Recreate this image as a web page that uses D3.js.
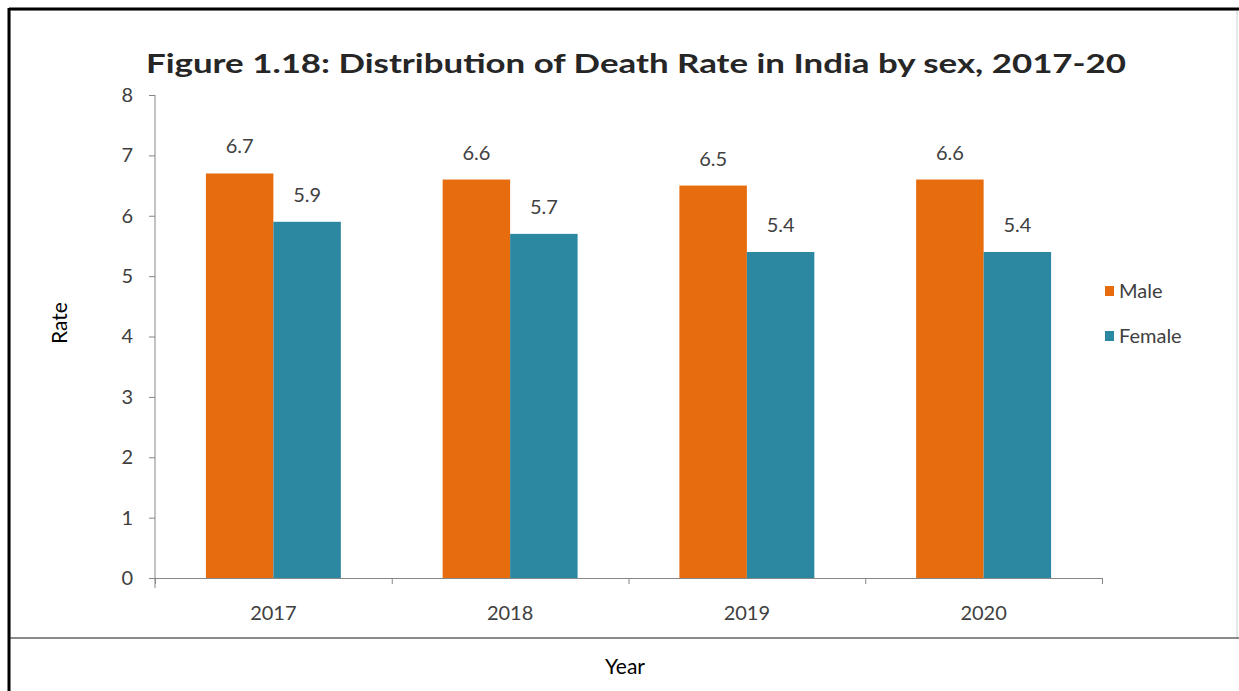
<!DOCTYPE html>
<html>
<head>
<meta charset="utf-8">
<script src="https://cdn.jsdelivr.net/npm/d3@7"></script>
<style>
  html, body { margin: 0; padding: 0; background: #fff; }
  svg { display: block; }
</style>
</head>
<body>
<svg id="chart" width="1239" height="691"></svg>
<script>
const years = ["2017", "2018", "2019", "2020"];
const seriesNames = ["Male", "Female"];
const maleValues = [6.7, 6.6, 6.5, 6.6];
const femaleValues = [5.9, 5.7, 5.4, 5.4];
const yTicks = [0, 1, 2, 3, 4, 5, 6, 7, 8];
const colors = { Male: "#E66C0E", Female: "#2C87A0" };

const data = years.map((y, i) => ({ year: y, Male: maleValues[i], Female: femaleValues[i] }));

const svg = d3.select("#chart");
const W = 1239, H = 691;
const FONT = "Lato, 'Open Sans', sans-serif";

svg.append("rect").attr("x", 0).attr("y", 0).attr("width", W).attr("height", H).attr("fill", "#fff");
svg.append("rect").attr("x", 10).attr("y", 10).attr("width", 1227).attr("height", 628)
  .attr("fill", "#fff").attr("stroke", "#d0d0d0").attr("stroke-width", 1);
svg.append("line").attr("x1", 10).attr("x2", W).attr("y1", 638).attr("y2", 638)
  .attr("stroke", "#8a8a8a").attr("stroke-width", 2);
svg.append("line").attr("x1", 9).attr("x2", W).attr("y1", 9).attr("y2", 9)
  .attr("stroke", "#000").attr("stroke-width", 3);
svg.append("line").attr("x1", 9).attr("x2", 9).attr("y1", 8).attr("y2", H)
  .attr("stroke", "#000").attr("stroke-width", 3);

const pLeft = 155, pRight = 1102, pTop = 95, pBottom = 578;

const x0 = d3.scaleBand().domain(years).range([pLeft, pRight]).paddingInner(0.43).paddingOuter(0.215);
const x1 = d3.scaleBand().domain(seriesNames).range([0, x0.bandwidth()]);
const y = d3.scaleLinear().domain([0, 8]).range([pBottom, pTop]);
const xIdx = d3.scaleLinear().domain([0, years.length]).range([pLeft, pRight]);

const groups = svg.append("g").selectAll("g").data(data).join("g")
  .attr("transform", d => `translate(${x0(d.year)},0)`);
groups.selectAll("rect").data(d => seriesNames.map(s => ({ s, v: d[s] }))).join("rect")
  .attr("x", d => x1(d.s)).attr("width", x1.bandwidth())
  .attr("y", d => y(d.v)).attr("height", d => y(0) - y(d.v))
  .attr("fill", d => colors[d.s]);
groups.selectAll("text").data(d => seriesNames.map(s => ({ s, v: d[s] }))).join("text")
  .attr("x", d => x1(d.s) + x1.bandwidth() / 2)
  .attr("y", d => y(d.v) - 20)
  .attr("text-anchor", "middle")
  .attr("font-family", FONT).attr("font-size", 20)
  .attr("fill", "#404040")
  .text(d => d.v.toFixed(1));

const yAxis = svg.append("g").attr("transform", `translate(${pLeft},0)`)
  .call(d3.axisLeft(y).tickValues(yTicks).tickSize(6).tickSizeOuter(0).tickPadding(16).tickFormat(d3.format("d")));
yAxis.select(".domain").attr("stroke", "#868686").attr("d", `M0,${pTop}V${pBottom + 10}`);
yAxis.selectAll(".tick line").attr("stroke", "#868686");
yAxis.selectAll(".tick text").attr("font-family", FONT).attr("font-size", 20).attr("fill", "#404040");

const xAxis = svg.append("g").attr("transform", `translate(0,${pBottom})`)
  .call(d3.axisBottom(xIdx).tickValues(d3.range(years.length + 1)).tickSize(6).tickSizeOuter(0).tickFormat(""));
xAxis.select(".domain").attr("stroke", "#868686");
xAxis.selectAll(".tick line").attr("stroke", "#868686");
const xLab = svg.append("g").attr("transform", `translate(0,${pBottom})`)
  .call(d3.axisBottom(x0).tickSize(0).tickPadding(28));
xLab.select(".domain").remove();
xLab.selectAll(".tick text").attr("font-family", FONT).attr("font-size", 20).attr("fill", "#404040");

svg.append("text").attr("x", 146).attr("y", 73)
  .attr("font-family", FONT).attr("font-weight", "bold").attr("font-size", 27)
  .attr("fill", "#262626")
  .attr("textLength", 980).attr("lengthAdjust", "spacingAndGlyphs")
  .text("Figure 1.18: Distribution of Death Rate in India by sex, 2017-20");

const legend = svg.append("g").selectAll("g").data(seriesNames).join("g")
  .attr("transform", (d, i) => `translate(1105,${291 + i * 45})`);
legend.append("rect").attr("x", 0).attr("y", -5).attr("width", 9).attr("height", 10).attr("fill", d => colors[d]);
legend.append("text").attr("x", 14).attr("y", 0).attr("dy", "0.35em")
  .attr("font-family", FONT).attr("font-size", 20).attr("fill", "#404040")
  .text(d => d);

svg.append("text").attr("transform", "translate(67,323) rotate(-90)")
  .attr("text-anchor", "middle")
  .attr("font-family", FONT).attr("font-size", 21).attr("fill", "#000")
  .text("Rate");
svg.append("text").attr("x", 625).attr("y", 674)
  .attr("text-anchor", "middle")
  .attr("font-family", FONT).attr("font-size", 21).attr("fill", "#000")
  .text("Year");
</script>
</body>
</html>
